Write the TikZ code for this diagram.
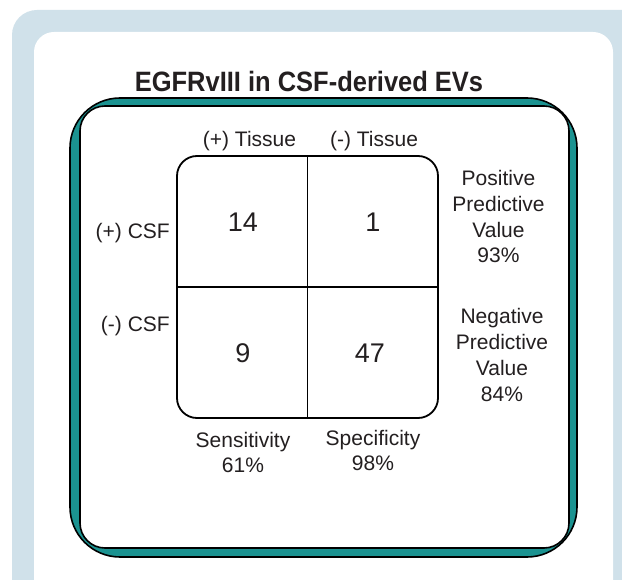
\documentclass[tikz,border=0pt]{standalone}
\usepackage{fontspec}
\usepackage{graphicx}
\setmainfont{Liberation Sans}
\definecolor{frameblue}{RGB}{208,225,234}
\definecolor{tealbox}{RGB}{27,147,145}
\definecolor{ink}{RGB}{35,31,32}
\begin{document}
\begin{tikzpicture}[x=1pt,y=-1pt,
  lbl/.style={inner sep=0pt,text=ink,font=\fontsize{21}{25.5}\selectfont,anchor=base},
  num/.style={inner sep=0pt,text=ink,font=\fontsize{27}{30}\selectfont,anchor=base},
  edge/.style={draw=black,line width=1.6pt}]
\useasboundingbox (0,0) rectangle (622,580);
\fill[white] (0,0) rectangle (622,580);
\begin{scope}
\clip (0,0) rectangle (622,580);
\fill[frameblue,rounded corners=25pt] (12,10) rectangle (660,640);
\fill[white,rounded corners=20pt] (34,32) rectangle (613,640);
\end{scope}
% teal framed panel
\path[edge,fill=tealbox,rounded corners=50pt] (70,98) rectangle (577,557);
\path[edge,fill=white,rounded corners=25pt] (80,106) rectangle (569,548);
% title
\node[inner sep=0pt,text=ink,anchor=base,font=\fontsize{28}{30}\selectfont\bfseries] (title) at (309,92) {\scalebox{0.91}[1]{EGFRvIII in CSF-derived EVs}};
% matrix
\draw[line width=1.8pt,rounded corners=20pt] (177,156) rectangle (438,418);
\coordinate (vt) at (307.5,156);
\coordinate (vb) at (307.5,418);
\coordinate (hl) at (177,287);
\coordinate (hr) at (438,287);
\draw[line width=1.8pt] (vt) -- (vb);
\draw[line width=1.8pt] (hl) -- (hr);
% column headers
\node[lbl] (ptis) at (249.5,147) {(+) Tissue};
\node[lbl] (ntis) at (374,147) {(-) Tissue};
% row headers
\node[lbl,anchor=base east] (pcsf) at (170,239) {(+) CSF};
\node[lbl,anchor=base east] (ncsf) at (170,332) {(-) CSF};
% cells
\node[num] (tp) at (243,232) {14};
\node[num] (fp) at (373,232) {1};
\node[num] (fn) at (243,363) {9};
\node[num] (tn) at (370,363) {47};
% bottom
\node[lbl] (sens1) at (243,447) {Sensitivity};
\node[lbl] (sens2) at (243,472) {61\%};
\node[lbl] (spec1) at (373,446) {Specificity};
\node[lbl] (spec2) at (373,471) {98\%};
% right side
\node[lbl] (ppv1) at (498.5,186) {Positive};
\node[lbl] (ppv2) at (498.5,212) {Predictive};
\node[lbl] (ppv3) at (498.5,238) {Value};
\node[lbl] (ppv4) at (498.5,263) {93\%};
\node[lbl] (npv1) at (502,324) {Negative};
\node[lbl] (npv2) at (502,350) {Predictive};
\node[lbl] (npv3) at (502,376) {Value};
\node[lbl] (npv4) at (502,402) {84\%};
\end{tikzpicture}
\end{document}
